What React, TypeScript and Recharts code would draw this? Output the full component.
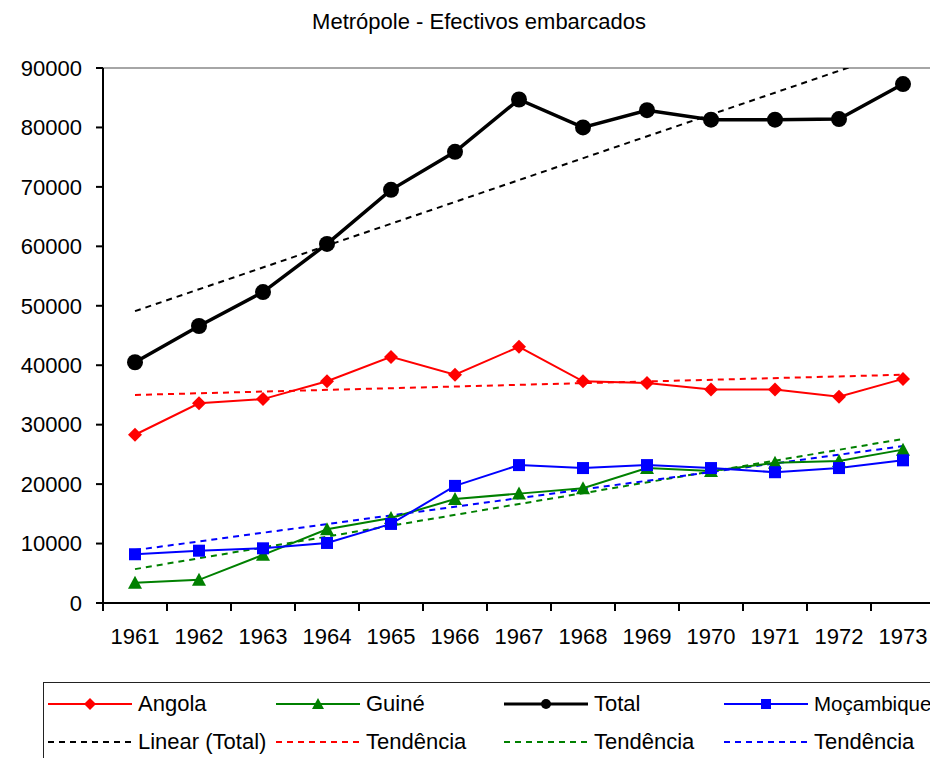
import { Line, LineChart, ReferenceLine, XAxis, YAxis } from 'recharts';

const years = [1961, 1962, 1963, 1964, 1965, 1966, 1967, 1968, 1969, 1970, 1971, 1972, 1973];
const angola = [28300, 33600, 34300, 37300, 41400, 38400, 43100, 37300, 37000, 35900, 35900, 34700, 37700];
const guine = [3400, 3900, 8100, 12400, 14300, 17500, 18400, 19300, 22700, 22200, 23600, 23900, 25800];
const total = [40500, 46600, 52300, 60400, 69500, 75900, 84700, 80000, 82900, 81300, 81300, 81400, 87300];
const mocambique = [8200, 8800, 9200, 10100, 13300, 19700, 23200, 22700, 23200, 22700, 22000, 22700, 24000];

// trend lines: value at first year and at last year
const totalTrend = [49100, 93200];
const angolaTrend = [35000, 38400];
const guineTrend = [5700, 27600];
const mocambiqueTrend = [8900, 26400];

const yTicks = [0, 10000, 20000, 30000, 40000, 50000, 60000, 70000, 80000, 90000];
const yearEdges = [...years.map((y) => y - 0.5), years[years.length - 1] + 0.5];

const last = years.length - 1;
const ends = (pair: number[], i: number) => (i === 0 ? pair[0] : i === last ? pair[1] : null);

const data = years.map((year, i) => ({
  year,
  angola: angola[i],
  guine: guine[i],
  total: total[i],
  mocambique: mocambique[i],
  totalTrend: ends(totalTrend, i),
  angolaTrend: ends(angolaTrend, i),
  guineTrend: ends(guineTrend, i),
  mocambiqueTrend: ends(mocambiqueTrend, i),
}));

const FONT = '"Liberation Sans", Arial, sans-serif';
const tickStyle = { fontSize: 22, fill: '#000', fontFamily: FONT };
const DASH = '6 5';

const RED = '#FF0000';
const GREEN = '#008000';
const BLUE = '#0000FF';
const BLACK = '#000000';

function Diamond({ cx, cy, s = 7 }: any) {
  if (cx == null || cy == null) return null;
  return <polygon points={`${cx},${cy - s} ${cx + s},${cy} ${cx},${cy + s} ${cx - s},${cy}`} fill={RED} />;
}

function Triangle({ cx, cy, s = 7 }: any) {
  if (cx == null || cy == null) return null;
  return <polygon points={`${cx},${cy - s} ${cx + s},${cy + s - 1} ${cx - s},${cy + s - 1}`} fill={GREEN} />;
}

function Square({ cx, cy, s = 6 }: any) {
  if (cx == null || cy == null) return null;
  return <rect x={cx - s} y={cy - s} width={s * 2} height={s * 2} fill={BLUE} />;
}

function Dot({ cx, cy, r = 8 }: any) {
  if (cx == null || cy == null) return null;
  return <circle cx={cx} cy={cy} r={r} fill={BLACK} />;
}

function Sample({ color, dashed, width = 2, marker }: { color: string; dashed?: boolean; width?: number; marker?: React.ReactNode }) {
  return (
    <svg width={84} height={20} style={{ display: 'block', flex: 'none' }}>
      <line x1={0} y1={10} x2={84} y2={10} stroke={color} strokeWidth={width} strokeDasharray={dashed ? DASH : undefined} />
      {marker}
    </svg>
  );
}

const legendRows = [
  [
    { label: 'Angola', node: <Sample color={RED} marker={<Diamond cx={42} cy={10} s={6} />} /> },
    { label: 'Guiné', node: <Sample color={GREEN} marker={<Triangle cx={42} cy={10} s={6} />} /> },
    { label: 'Total', node: <Sample color={BLACK} width={3} marker={<Dot cx={42} cy={10} r={5} />} /> },
    { label: 'Moçambique', node: <Sample color={BLUE} marker={<Square cx={42} cy={10} s={5} />} /> },
  ],
  [
    { label: 'Linear (Total)', node: <Sample color={BLACK} dashed /> },
    { label: 'Tendência', node: <Sample color={RED} dashed /> },
    { label: 'Tendência', node: <Sample color={GREEN} dashed /> },
    { label: 'Tendência', node: <Sample color={BLUE} dashed /> },
  ],
];
const legendCols = [4, 232, 460, 680];

export default function App() {
  return (
    <div
      style={{
        position: 'absolute',
        left: 0,
        top: 0,
        width: 930,
        height: 758,
        overflow: 'hidden',
        background: '#fff',
        fontFamily: FONT,
      }}
    >
      <div style={{ position: 'absolute', top: 9, left: 0, width: 958, textAlign: 'center', fontSize: 22, lineHeight: '26px', color: '#000' }}>
        Metrópole - Efectivos embarcados
      </div>

      <LineChart width={950} height={682} data={data} margin={{ top: 68, right: 15, left: 0, bottom: 29 }}>
        {/* axis 0: line + tick marks between the years; the series use it */}
        <XAxis
          xAxisId={0}
          type="number"
          dataKey="year"
          domain={[yearEdges[0], yearEdges[yearEdges.length - 1]]}
          ticks={yearEdges}
          interval={0}
          tick={() => <g />}
          tickSize={8}
          tickLine={{ stroke: '#000', strokeWidth: 2 }}
          axisLine={{ stroke: '#000', strokeWidth: 2 }}
          height={2}
        />
        {/* axis 1: the year labels, centred on each year */}
        <XAxis
          xAxisId={1}
          type="number"
          dataKey="year"
          domain={[yearEdges[0], yearEdges[yearEdges.length - 1]]}
          ticks={years}
          interval={0}
          tickLine={false}
          tickSize={0}
          tickMargin={23}
          axisLine={false}
          tick={tickStyle}
          height={48}
        />
        <YAxis
          width={103}
          domain={[0, 90000]}
          ticks={yTicks}
          allowDataOverflow
          interval={0}
          tickSize={7}
          tickMargin={14}
          tickLine={{ stroke: '#000', strokeWidth: 2 }}
          axisLine={{ stroke: '#000', strokeWidth: 2 }}
          tick={tickStyle}
        />
        <ReferenceLine y={90000} stroke="#a6a6a6" strokeWidth={2} />

        <Line dataKey="totalTrend" stroke={BLACK} strokeWidth={2} strokeDasharray={DASH} dot={false} activeDot={false} connectNulls isAnimationActive={false} />
        <Line dataKey="angolaTrend" stroke={RED} strokeWidth={2} strokeDasharray={DASH} dot={false} activeDot={false} connectNulls isAnimationActive={false} />
        <Line dataKey="guineTrend" stroke={GREEN} strokeWidth={2} strokeDasharray={DASH} dot={false} activeDot={false} connectNulls isAnimationActive={false} />
        <Line dataKey="mocambiqueTrend" stroke={BLUE} strokeWidth={2} strokeDasharray={DASH} dot={false} activeDot={false} connectNulls isAnimationActive={false} />

        <Line dataKey="angola" stroke={RED} strokeWidth={2} dot={(p: any) => <Diamond key={`a${p.index}`} cx={p.cx} cy={p.cy} />} activeDot={false} isAnimationActive={false} />
        <Line dataKey="guine" stroke={GREEN} strokeWidth={2} dot={(p: any) => <Triangle key={`g${p.index}`} cx={p.cx} cy={p.cy} />} activeDot={false} isAnimationActive={false} />
        <Line dataKey="total" stroke={BLACK} strokeWidth={3.5} dot={(p: any) => <Dot key={`t${p.index}`} cx={p.cx} cy={p.cy} />} activeDot={false} isAnimationActive={false} />
        <Line dataKey="mocambique" stroke={BLUE} strokeWidth={2} dot={(p: any) => <Square key={`m${p.index}`} cx={p.cx} cy={p.cy} />} activeDot={false} isAnimationActive={false} />
      </LineChart>

      <div
        style={{
          position: 'absolute',
          left: 43,
          top: 682,
          width: 930,
          height: 80,
          border: '1.5px solid #222',
          boxSizing: 'border-box',
        }}
      >
        {legendRows.map((row, r) => (
          <div key={r} style={{ position: 'absolute', top: 8 + r * 38, left: 0, height: 26 }}>
            {row.map((item, c) => (
              <div key={c} style={{ position: 'absolute', left: legendCols[c], top: 0, display: 'flex', alignItems: 'center', height: 26, whiteSpace: 'nowrap' }}>
                {item.node}
                <span style={{ marginLeft: 6, fontSize: c === 3 && r === 0 ? 20.5 : 22, color: '#000' }}>{item.label}</span>
              </div>
            ))}
          </div>
        ))}
      </div>
    </div>
  );
}
